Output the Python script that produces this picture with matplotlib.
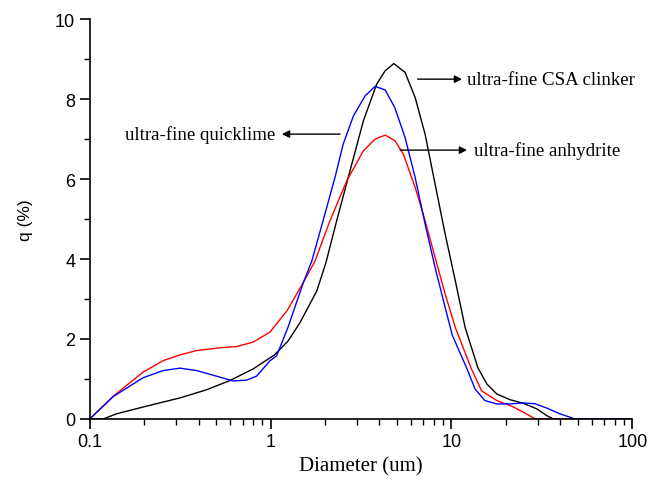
import matplotlib
matplotlib.use("Agg")
import matplotlib.pyplot as plt
from matplotlib.ticker import LogLocator, FixedLocator, MultipleLocator, FuncFormatter

# Data
csa_d = [0.1, 0.119, 0.14, 0.206, 0.315, 0.443, 0.596, 0.80, 1.05, 1.25, 1.45, 1.8, 2.02, 2.32, 2.75,
         3.26, 3.86, 4.30, 4.8, 5.54, 6.3, 7.15, 8.12, 9.23, 10.5, 11.9, 14.0, 15.7, 17.8, 21.1,
         25.0, 29.7, 33.7, 36.7, 100]
csa_q = [0.0, 0.0, 0.125, 0.32, 0.525, 0.73, 0.96, 1.25, 1.6, 1.95, 2.4, 3.2, 3.9, 4.96, 6.21,
         7.46, 8.375, 8.71, 8.89, 8.67, 8.04, 7.125, 5.875, 4.625, 3.46, 2.29, 1.28, 0.875, 0.625, 0.48,
         0.39, 0.25, 0.08, 0.0, 0.0]

lime_d = [0.1, 0.135, 0.197, 0.255, 0.315, 0.389, 0.502, 0.62, 0.736, 0.837, 0.99, 1.08, 1.25,
          1.52, 1.69, 1.95, 2.27, 2.52, 2.87, 3.33, 3.78, 4.30, 4.86, 5.54, 6.3, 7.15, 8.12, 9.23,
          10.1, 12.2, 13.5, 15.3, 17.8, 21.1, 25.0, 29.0, 33.7, 39.9, 45.4, 48.0, 100]
lime_q = [0.0, 0.56, 1.03, 1.21, 1.27, 1.21, 1.07, 0.95, 0.97, 1.07, 1.45, 1.58, 2.3,
          3.42, 3.95, 4.96, 6.04, 6.875, 7.58, 8.08, 8.32, 8.23, 7.79, 7.04, 6.04, 4.875, 3.79, 2.79,
          2.1, 1.25, 0.75, 0.46, 0.375, 0.375, 0.4, 0.38, 0.27, 0.125, 0.04, 0.0, 0.0]

anh_d = [0.1, 0.135, 0.197, 0.255, 0.315, 0.389, 0.525, 0.648, 0.80, 0.99, 1.23, 1.52, 1.76,
         2.13, 2.64, 3.26, 3.78, 4.30, 4.87, 5.42, 6.3, 7.15, 8.12, 9.23, 10.5, 12.9, 14.7, 17.8,
         22.0, 26.1, 29.0, 100]
anh_q = [0.0, 0.57, 1.17, 1.46, 1.6, 1.71, 1.78, 1.81, 1.92, 2.17, 2.7, 3.42, 3.95,
         4.96, 5.96, 6.71, 7.0, 7.1, 6.96, 6.625, 5.79, 4.96, 4.04, 3.125, 2.29, 1.25, 0.7, 0.46,
         0.3, 0.12, 0.0, 0.0]

labels = ["ultra-fine CSA clinker", "ultra-fine quicklime", "ultra-fine anhydrite"]
x_ticks = [0.1, 1, 10, 100]
x_tick_labels = ["0.1", "1", "10", "100"]
y_ticks = [0, 2, 4, 6, 8, 10]

fig = plt.figure(figsize=(6.6, 4.81), dpi=100)
ax = fig.add_axes([0.136, 0.127, 0.822, 0.831])

ax.plot(csa_d, csa_q, color="black", lw=1.0)
ax.plot(anh_d, anh_q, color="red", lw=1.0)
ax.plot(lime_d, lime_q, color="blue", lw=1.0)

ax.set_xscale("log")
ax.set_xlim(0.1, 100)
ax.set_ylim(0, 10)
ax.xaxis.set_major_locator(FixedLocator(x_ticks))
ax.xaxis.set_major_formatter(FuncFormatter(lambda v, p: x_tick_labels[x_ticks.index(v)] if v in x_ticks else ""))
ax.xaxis.set_minor_locator(LogLocator(base=10, subs=range(2, 10)))
ax.xaxis.set_minor_formatter(FuncFormatter(lambda v, p: ""))
ax.yaxis.set_major_locator(FixedLocator(y_ticks))
ax.yaxis.set_minor_locator(MultipleLocator(1))

for s in ["top", "right"]:
    ax.spines[s].set_visible(False)
for s in ["left", "bottom"]:
    ax.spines[s].set_linewidth(1.2)

ax.tick_params(which="major", direction="out", length=7, width=1.2, labelsize=13)
ax.tick_params(which="minor", direction="out", length=4, width=1.0)
for lab in ax.get_xticklabels() + ax.get_yticklabels():
    lab.set_fontfamily("Liberation Sans")

ax.set_xlabel("Diameter (um)", fontfamily="Liberation Serif", fontsize=15, labelpad=4)
ax.set_ylabel("q (%)", fontfamily="Liberation Sans", fontsize=12.5, labelpad=16)

arrow = dict(arrowstyle="-|>", color="black", lw=1.0, mutation_scale=11, shrinkA=0, shrinkB=0)
serif = dict(fontfamily="Liberation Serif", fontsize=13.6, va="center")

ax.annotate("", xy=(11.45, 8.5), xytext=(6.5, 8.5), arrowprops=arrow)
ax.text(12.2, 8.5, labels[0], ha="left", **serif)

ax.annotate("", xy=(1.155, 7.125), xytext=(2.42, 7.125), arrowprops=arrow)
ax.text(1.057, 7.125, labels[1], ha="right", **serif)

ax.annotate("", xy=(12.2, 6.725), xytext=(5.2, 6.725), arrowprops=arrow)
ax.text(13.35, 6.725, labels[2], ha="left", **serif)

fig.savefig("out.png", dpi=100)
